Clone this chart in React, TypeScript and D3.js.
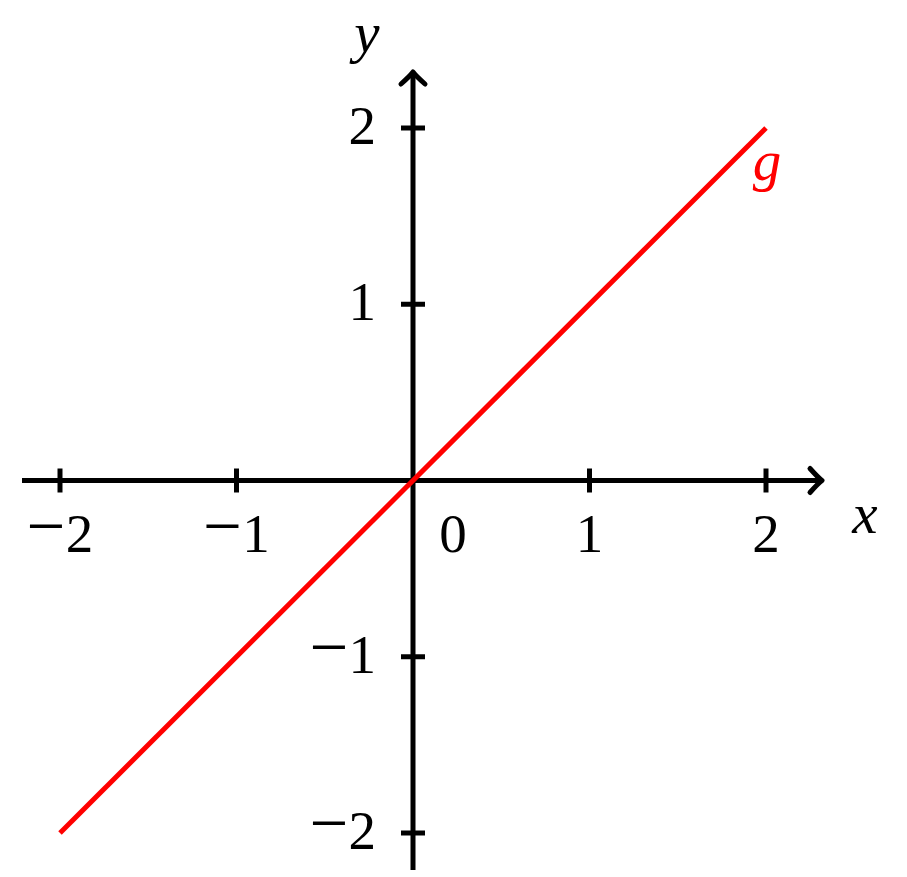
import React from "react";
import * as d3 from "d3";

const xTicks = [-2, -1, 1, 2];
const yTicks = [-2, -1, 1, 2];
const lineX = [-2, 2];
const lineSlope = 1;
const funcLabel = "g";

export default function App() {
  const W = 907, H = 877;
  const x = d3.scaleLinear().domain([-2, 2]).range([60, 766]);
  const y = d3.scaleLinear().domain([-2, 2]).range([833, 128]);
  const x0 = x(0), y0 = y(0);
  const font = "'Liberation Serif', 'DejaVu Serif', serif";
  const fs = 55;
  const pts = lineX.map((v) => [x(v), y(v * lineSlope)] as [number, number]);
  const line = d3.line();
  const ax = { stroke: "#000", strokeWidth: 5, fill: "none" };
  const xEnd = 822, yTop = 72;
  const lab = (t: number) =>
    t < 0 ? (
      <>
        <tspan fontSize={fs * 1.25} dy={-3}>{"\u2212"}</tspan>
        <tspan dy={3}>{Math.abs(t)}</tspan>
      </>
    ) : (
      String(t)
    );
  return (
    <svg width={W} height={H} style={{ position: "absolute", left: 0, top: 0 }}>
      <rect width={W} height={H} fill="#fff" />
      <line x1={22} y1={y0} x2={xEnd - 2} y2={y0} {...ax} />
      <line x1={x0} y1={870} x2={x0} y2={yTop + 2} {...ax} />
      <path d={`M${xEnd - 12},${y0 - 12} Q${xEnd - 4},${y0 - 3} ${xEnd},${y0} Q${xEnd - 4},${y0 + 3} ${xEnd - 12},${y0 + 12}`} {...ax} strokeLinecap="round" strokeLinejoin="round" />
      <path d={`M${x0 - 12},${yTop + 12} Q${x0 - 3},${yTop + 4} ${x0},${yTop} Q${x0 + 3},${yTop + 4} ${x0 + 12},${yTop + 12}`} {...ax} strokeLinecap="round" strokeLinejoin="round" />
      {xTicks.map((t) => (
        <g key={"x" + t}>
          <line x1={x(t)} x2={x(t)} y1={y0 - 12} y2={y0 + 12} {...ax} />
          <text x={x(t)} y={552} fontSize={fs} fontFamily={font} textAnchor="middle">
            {lab(t)}
          </text>
        </g>
      ))}
      <text x={x0 + 40} y={552} fontSize={fs} fontFamily={font} textAnchor="middle">0</text>
      {yTicks.map((t) => (
        <g key={"y" + t}>
          <line x1={x0 - 12} x2={x0 + 12} y1={y(t)} y2={y(t)} {...ax} />
          <text x={376} y={y(t) + 16} fontSize={fs} fontFamily={font} textAnchor="end">
            {lab(t)}
          </text>
        </g>
      ))}
      <text x={865} y={533} fontSize={fs + 2} fontFamily={font} fontStyle="italic" textAnchor="middle">x</text>
      <text x={367} y={52} fontSize={fs + 2} fontFamily={font} fontStyle="italic" textAnchor="middle">y</text>
      <path d={line(pts) || ""} stroke="#ff0000" strokeWidth={5} fill="none" />
      <text x={767} y={180} fontSize={fs + 2} fontFamily={font} fontStyle="italic" fill="#ff0000" textAnchor="middle">{funcLabel}</text>
    </svg>
  );
}
